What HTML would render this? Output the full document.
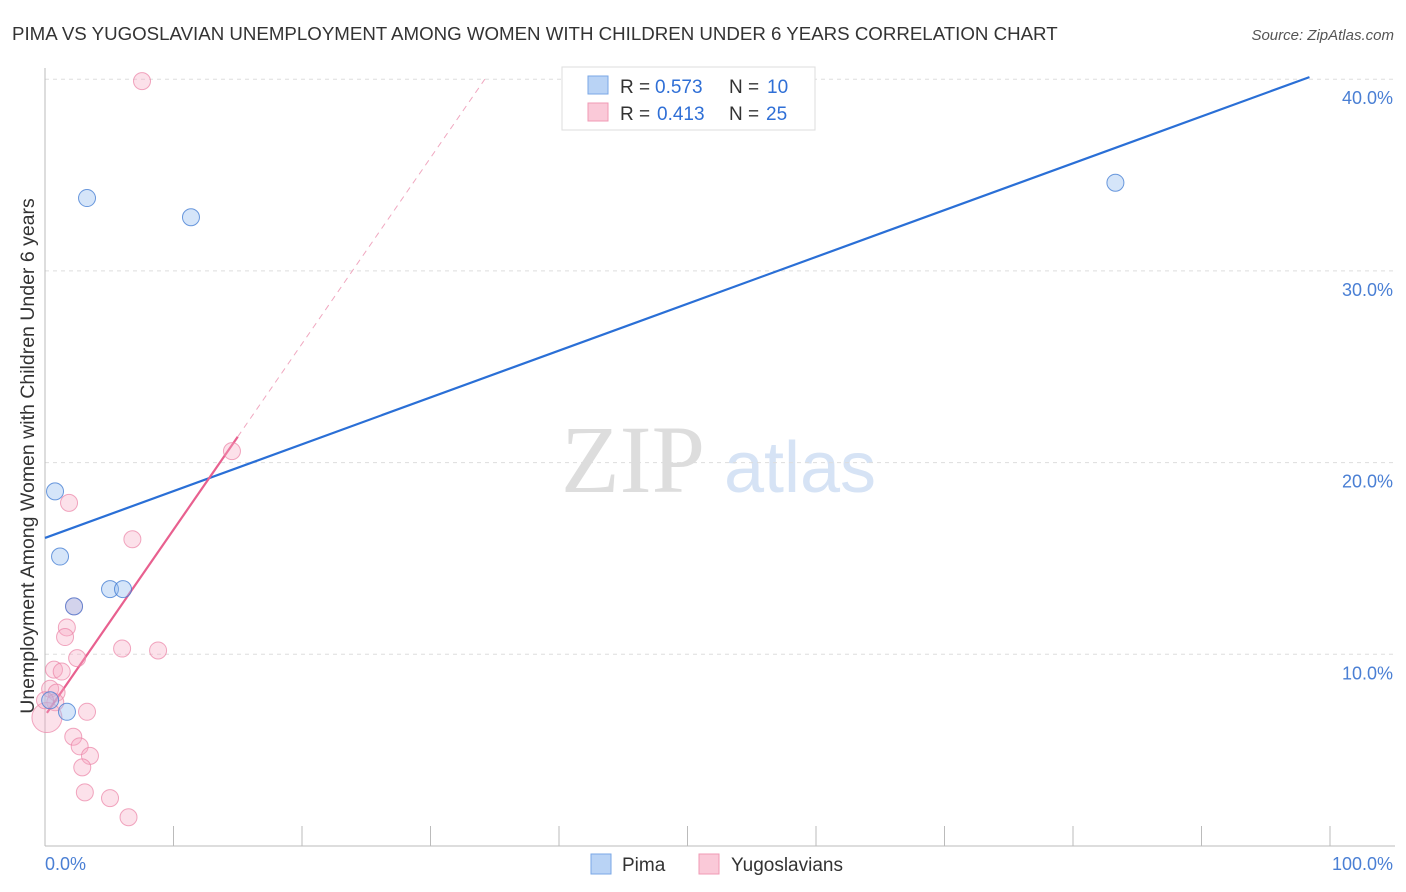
<!DOCTYPE html>
<html><head><meta charset="utf-8"><style>
body{margin:0;background:#fff;font-family:"Liberation Sans",sans-serif}
svg{display:block}
</style></head><body>
<svg width="1406" height="892" viewBox="0 0 1406 892">
<text x="12" y="40" font-size="18.7" fill="#333">PIMA VS YUGOSLAVIAN UNEMPLOYMENT AMONG WOMEN WITH CHILDREN UNDER 6 YEARS CORRELATION CHART</text>
<text x="1394" y="40" font-size="15" fill="#555" font-style="italic" text-anchor="end">Source: ZipAtlas.com</text>
<text x="633" y="492" font-size="96" fill="#ddd" font-family="Liberation Serif,serif" text-anchor="middle">ZIP</text>
<text x="800" y="492" font-size="72" fill="#d6e3f5" text-anchor="middle">atlas</text>
<g id="grid"></g>
<line x1="45" y1="68" x2="45" y2="846" stroke="#bbb"/>
<line x1="45" y1="846" x2="1395" y2="846" stroke="#bbb"/>
<g id="ticks"></g>
<text x="34" y="456" font-size="19.5" fill="#333" text-anchor="middle" transform="rotate(-90 34 456)">Unemployment Among Women with Children Under 6 years</text>
<text x="45" y="870" font-size="18" fill="#4a7fd4">0.0%</text>
<text x="1393" y="870" font-size="18" fill="#4a7fd4" text-anchor="end">100.0%</text>
<g id="lines"></g>
<g id="pts"></g>
<g>
<rect x="562" y="67" width="253" height="63" fill="#fff" stroke="#ddd"/>
<rect x="588" y="76" width="20" height="18" fill="#b9d3f5" stroke="#7aa7e6"/>
<rect x="588" y="103" width="20" height="18" fill="#fac9d8" stroke="#f09ab5"/>
<text x="620" y="93" font-size="19" fill="#333">R =</text>
<text x="655" y="93" font-size="19" fill="#2f6fd6">0.573</text>
<text x="729" y="93" font-size="19" fill="#333">N =</text>
<text x="767" y="93" font-size="19" fill="#2f6fd6">10</text>
<text x="620" y="120" font-size="19" fill="#333">R =</text>
<text x="657" y="120" font-size="19" fill="#2f6fd6">0.413</text>
<text x="729" y="120" font-size="19" fill="#333">N =</text>
<text x="766" y="120" font-size="19" fill="#2f6fd6">25</text>
</g>
<g>
<rect x="591" y="854" width="20" height="20" fill="#b9d3f5" stroke="#7aa7e6"/>
<text x="622" y="871" font-size="19" fill="#333">Pima</text>
<rect x="699" y="854" width="20" height="20" fill="#fac9d8" stroke="#f09ab5"/>
<text x="731" y="871" font-size="19" fill="#333">Yugoslavians</text>
</g>
</svg>
<script>
const yTicks=[10,20,30,40];
const yTickLabels=["10.0%","20.0%","30.0%","40.0%"];
const pimaX=[3.27,11.36,83.3,0.78,1.17,5.06,6.07,2.26,1.71,0.4];
const pimaY=[33.8,32.8,34.6,18.5,15.1,13.4,13.4,12.5,7.0,7.6];
const yugoX=[1.87,6.8,14.55,7.55,6.0,8.8,1.7,1.56,2.5,0.7,1.3,2.26,0.4,0.9,0.8,0.15,3.27,2.2,2.7,3.5,2.9,3.1,5.06,6.5,0];
const yugoY=[17.9,16.0,20.6,39.9,10.3,10.2,11.4,10.9,9.8,9.2,9.1,12.5,8.2,8.0,7.5,6.7,7.0,5.7,5.2,4.7,4.1,2.8,2.5,1.5,7.6];
const pimaTrend=[16.07,0.2443];
const yugoTrend=[6.8,0.97];
const sx=v=>45+v*12.85, sy=v=>846-v*19.17;
const NS="http://www.w3.org/2000/svg";
function mk(tag,attrs,parent){const e=document.createElementNS(NS,tag);for(const k in attrs)e.setAttribute(k,attrs[k]);document.getElementById(parent).appendChild(e);return e;}
yTicks.forEach((t,i)=>{
 const g=mk('line',{x1:45,x2:1395,y1:sy(t),y2:sy(t),stroke:'#ddd','stroke-dasharray':'4,4'},'grid');
 
 
 const l=mk('text',{x:1393,y:sy(t)+25,'font-size':18,fill:'#4a7fd4','text-anchor':'end'},'grid');
 l.textContent=yTickLabels[i];
 
 
});
for(let i=0;i<=10;i++){
 const t=mk('line',{x1:sx(i*10),x2:sx(i*10),y1:826,y2:846,stroke:'#bbb'},'ticks');
 
 
}
const bl=mk('line',{x1:sx(0),y1:sy(pimaTrend[0]),x2:sx(98.4),y2:sy(pimaTrend[0]+pimaTrend[1]*98.4),stroke:'#2a6fd6','stroke-width':2.2},'lines');


const px=15,pe=(40-yugoTrend[0])/yugoTrend[1];
const pl=mk('line',{x1:sx(0.15),y1:sy(yugoTrend[0]+yugoTrend[1]*0.15),x2:sx(px),y2:sy(yugoTrend[0]+yugoTrend[1]*px),stroke:'#e8608f','stroke-width':2.2},'lines');


const pd=mk('line',{x1:sx(px),y1:sy(yugoTrend[0]+yugoTrend[1]*px),x2:sx(pe),y2:sy(40),stroke:'#f0a8c0','stroke-width':1,'stroke-dasharray':'6,5'},'lines');


yugoX.forEach((x,i)=>{
 const c=mk('circle',{cx:sx(x),cy:sy(yugoY[i]),r:i==15?15:8.5,fill:'rgba(247,170,195,0.35)',stroke:'rgba(235,130,165,0.7)','stroke-width':1},'pts');
 
 
});
pimaX.forEach((x,i)=>{
 const c=mk('circle',{cx:sx(x),cy:sy(pimaY[i]),r:8.5,fill:'rgba(150,190,240,0.4)',stroke:'rgba(60,120,210,0.75)','stroke-width':1},'pts');
 
 
});
</script>
</body></html>
